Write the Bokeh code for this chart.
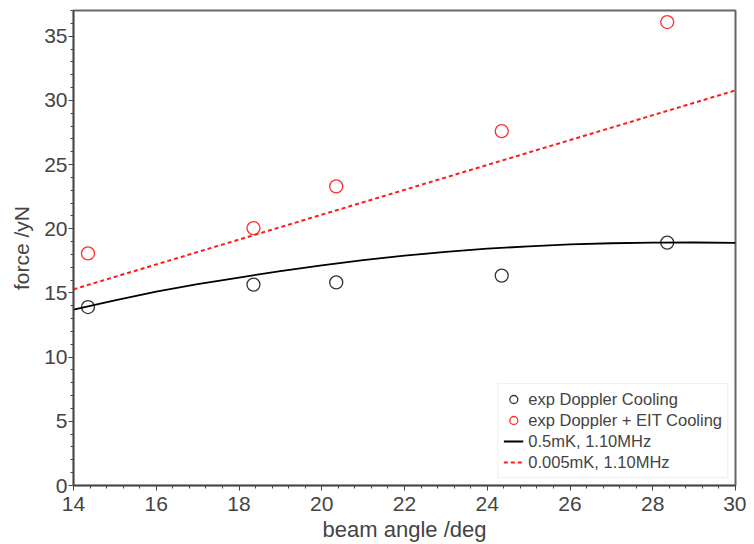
from bokeh.plotting import figure
from bokeh.models import Range1d, SingleIntervalTicker, Legend
from bokeh.embed import file_html
from bokeh.resources import INLINE

# experimental data
beam_angle = [14.35, 18.35, 20.35, 24.35, 28.35]
force_doppler = [13.9, 15.65, 15.82, 16.35, 18.92]
force_doppler_eit = [18.08, 20.05, 23.3, 27.6, 36.1]

# model curves
model_x = [14, 15, 16, 17, 18, 19, 20, 21, 22, 23, 24, 25, 26, 27, 28, 29, 30]
model_05mK = [13.7, 14.42, 15.1, 15.68, 16.2, 16.7, 17.15, 17.55, 17.9, 18.2,
              18.45, 18.63, 18.78, 18.87, 18.92, 18.93, 18.9]
lin_x = [14, 30]
model_0005mK = [15.28, 30.78]

FONT = "Liberation Sans"
TXT = "#444444"

p = figure(width=746, height=544, output_backend="svg", toolbar_location=None,
           x_range=Range1d(14, 30), y_range=Range1d(0, 37),
           min_border_left=73, min_border_right=11, min_border_top=10,
           min_border_bottom=56)
p.xgrid.visible = False
p.ygrid.visible = False
p.outline_line_color = "#666666"
p.outline_line_width = 2

p.xaxis.ticker = SingleIntervalTicker(interval=2, num_minor_ticks=5)
p.yaxis.ticker = SingleIntervalTicker(interval=5, num_minor_ticks=5)
for ax in (p.xaxis[0], p.yaxis[0]):
    ax.axis_line_color = "#444444"
    ax.axis_line_width = 1.5
    ax.major_tick_line_color = "#444444"
    ax.minor_tick_line_color = "#444444"
    ax.major_tick_out = 5
    ax.major_tick_in = 0
    ax.minor_tick_out = 3
    ax.minor_tick_in = 0
    ax.major_label_text_font = FONT
    ax.major_label_text_font_size = "21px"
    ax.major_label_text_color = TXT
    ax.axis_label_text_font = FONT
    ax.axis_label_text_font_style = "normal"
    ax.axis_label_text_color = TXT
p.xaxis.major_label_standoff = 6
p.xaxis.axis_label_standoff = 3
p.yaxis.major_label_standoff = 1
p.yaxis.axis_label_standoff = 8
p.xaxis.axis_label = "beam angle /deg"
p.xaxis.axis_label_text_font_size = "22px"
p.yaxis.axis_label = "force /yN"
p.yaxis.axis_label_text_font_size = "21px"

r1 = p.scatter(beam_angle, force_doppler, marker="circle", size=13,
               fill_color=None, line_color="#333333", line_width=1.3)
r2 = p.scatter(beam_angle, force_doppler_eit, marker="circle", size=13,
               fill_color=None, line_color="#ff3030", line_width=1.3)
r3 = p.line(model_x, model_05mK, line_color="black", line_width=1.8)
r4 = p.line(lin_x, model_0005mK, line_color="#ff1a1a", line_width=2,
            line_dash="4 3")

legend = Legend(items=[("exp Doppler Cooling", [r1]),
                       ("exp Doppler + EIT Cooling", [r2]),
                       ("0.5mK, 1.10MHz", [r3]),
                       ("0.005mK, 1.10MHz", [r4])],
                location="bottom_right")
legend.margin = 7
legend.padding = 5
legend.spacing = 1
legend.glyph_width = 20
legend.glyph_height = 20
legend.label_height = 20
legend.label_standoff = 5
legend.label_text_font = FONT
legend.label_text_font_size = "16.5px"
legend.label_text_color = TXT
legend.border_line_color = "#e2e2e2"
legend.border_line_width = 1.5
legend.background_fill_color = "white"
legend.background_fill_alpha = 1
p.add_layout(legend, "center")

open("out.html", "w").write(file_html(p, INLINE))
